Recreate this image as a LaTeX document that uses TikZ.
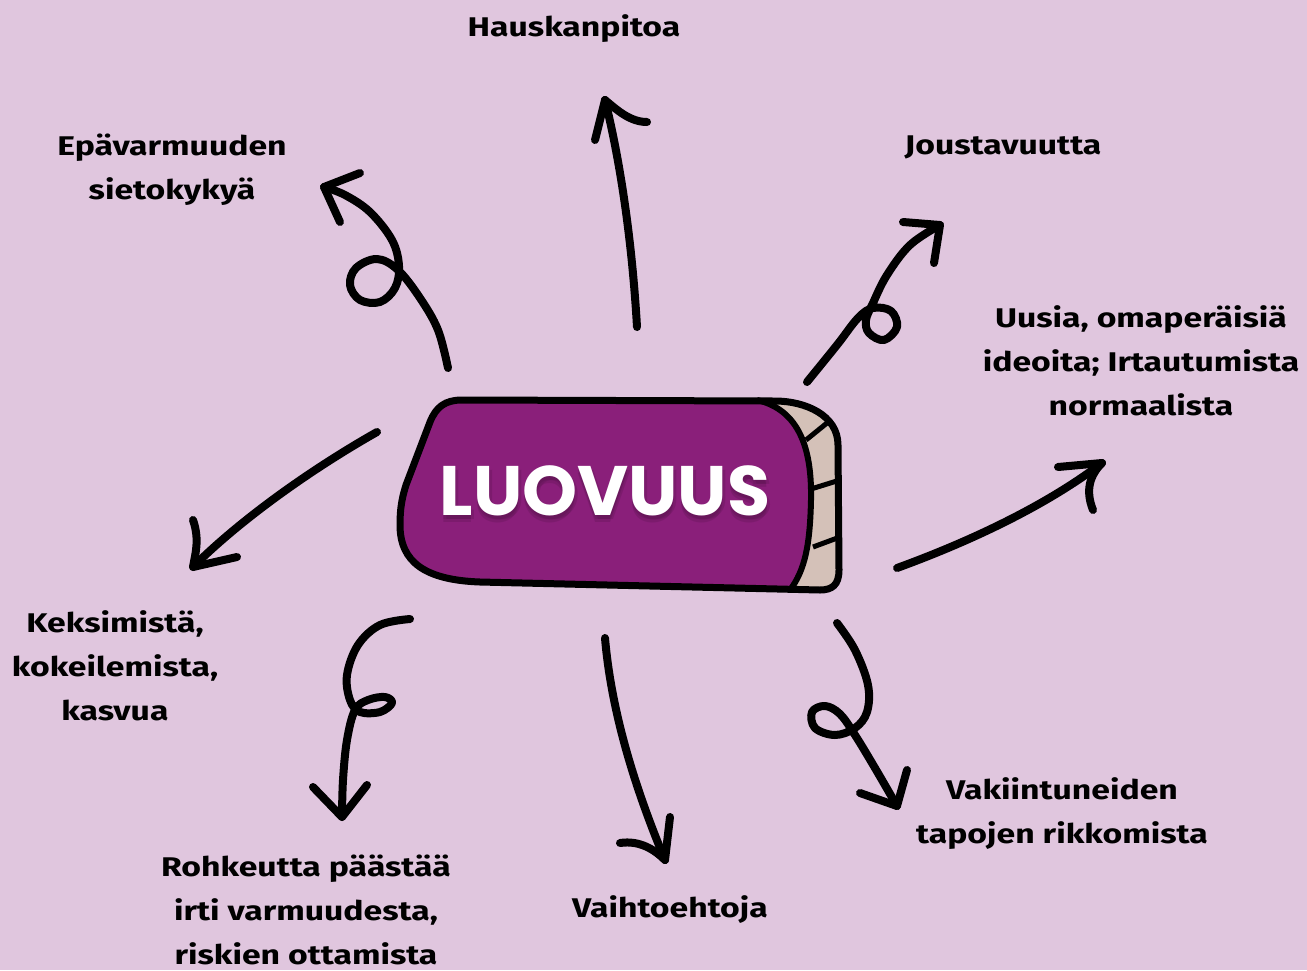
\documentclass[tikz,border=0pt]{standalone}
\usepackage{fontspec}
\setmainfont{Fira Sans}[FakeStretch=1.25]
\newfontfamily\luofont{Poppins}
\usepackage{tikz}
\usetikzlibrary{calc}
\definecolor{bgmauve}{HTML}{E0C6DE}
\definecolor{luopurple}{HTML}{8A1F7A}
\definecolor{luobeige}{HTML}{D4C1B8}
\newcommand\eraserpath{(462,400) -- (775,401) .. controls (805,401) and (838,415) .. (838,445)
  -- (839,570) .. controls (839,585) and (832,590) .. (820,590) -- (480,582)
  .. controls (425,580) and (400,562) .. (400,525) .. controls (400,505) and (403,495) .. (406,485)
  -- (430,422) .. controls (436,407) and (445,400) .. (462,400) -- cycle}
\tikzset{
	idea/.style={
			font=\fontsize{27}{44}\selectfont\bfseries,
			align=center,
			text=black,
			inner sep=0pt
		},
	bigword/.style={
			font=\luofont\fontsize{70}{74}\selectfont\bfseries,
			inner sep=0pt
		},
	squiggle/.style={
			line width=8pt,
			line cap=round,
			line join=round
		},
	barb/.style={
			squiggle
		}
}
\begin{document}
\begin{tikzpicture}[x=1pt, y=-1pt]
\fill[bgmauve] (0,0) rectangle (1307,970);
\useasboundingbox (0,0) rectangle (1307,970);

% the eraser in the middle
\begin{scope}
\clip \eraserpath;
\fill[luobeige] (390,390) rectangle (850,600);
\fill[luopurple] (740,380) -- (757,400) .. controls (800,410) and (812,450) .. (811,500)
  .. controls (810,545) and (805,570) .. (790,590) -- (780,610) -- (380,610) -- (380,380) -- cycle;
\end{scope}
\draw[line width=6pt] (757,400) .. controls (800,410) and (812,450) .. (811,500)
  .. controls (810,545) and (805,570) .. (790,590);
\draw[line width=5pt] (806,440) -- (827,423) (811,489) -- (840,480) (813,547) -- (840,537);
\draw[line width=7pt, line join=round] \eraserpath;

\foreach \dx/\dy in {0/4, 0/7, 3/4}
  \node[bigword, text=luopurple!55!black, opacity=0.22] at (605+\dx,491+\dy) {LUOVUUS};
\node[bigword, text=white] (luo) at (605,491) {LUOVUUS};

\node[idea] (hausk) at (574,29) {Hauskanpitoa};
\node[idea] (epav) at (172,170) {Epävarmuuden\\sietokykyä};
\node[idea] (joust) at (1003,147) {Joustavuutta};
\node[idea] (uusia) at (1141,361) {Uusia, omaperäisiä\\ideoita; Irtautumista\\normaalista};
\node[idea] (keks) at (115,666) {Keksimistä,\\kokeilemista,\\kasvua};
\node[idea] (rohk) at (306,910) {Rohkeutta päästää\\irti varmuudesta,\\riskien ottamista};
\node[idea] (vaiht) at (670,910) {Vaihtoehtoja};
\node[idea] (vaki) at (1062,814) {Vakiintuneiden\\tapojen rikkomista};

\coordinate (a0) at (637,327);  \coordinate (a1) at (605,100);
\coordinate (b0) at (448,368);  \coordinate (b1) at (324,187);
\coordinate (c0) at (807,382);  \coordinate (c1) at (940,225);
\coordinate (d0) at (897,568);  \coordinate (d1) at (1102,463);
\coordinate (e0) at (837,623);  \coordinate (e1) at (897,806);
\coordinate (f0) at (605,638);  \coordinate (f1) at (665,860);
\coordinate (g0) at (410,619);  \coordinate (g1) at (342,817);
\coordinate (h0) at (377,432);  \coordinate (h1) at (193,567);

\draw[squiggle] (a0) .. controls (632,240) and (620,160) .. (a1);
\draw[barb] (a1) -- +(-10,40);
\draw[barb] (a1) .. controls (617,110) and (630,122) .. (647,122);

\draw[squiggle] plot[smooth, tension=0.6] coordinates {(b0) (438,330) (420,298) (398,270) (377,259)
  (356,268) (350,285) (360,300) (380,302) (395,288) (399,266) (392,240) (370,212) (345,195) (b1)};
\draw[barb] (360,173) -- (b1) -- (340,222);

\draw[squiggle] plot[smooth, tension=0.6] coordinates {(c0) (837,345) (858,318) (873,308) (891,311)
  (897,327) (884,340) (869,333) (866,320) (873,303) (887,275) (910,245) (c1)};
\draw[barb] (903,222) -- (c1) -- (934,263);

\draw[squiggle] (d0) .. controls (960,545) and (1040,510) .. (d1);
\draw[barb] (1058,467) -- (d1) .. controls (1090,475) and (1085,490) .. (1093,510);

\draw[squiggle] plot[smooth, tension=0.6] coordinates {(e0) (855,650) (868,685) (867,712) (855,728)
  (835,735) (815,728) (812,712) (825,706) (840,714) (855,735) (875,768) (e1)};
\draw[barb] (860,793) -- (e1) -- (907,770);

\draw[squiggle] (f0) .. controls (612,720) and (640,800) .. (f1);
\draw[barb] (620,843) .. controls (640,840) and (655,850) .. (f1) -- (670,817);

\draw[squiggle] plot[smooth, tension=0.6] coordinates {(g0) (380,625) (358,645) (347,675) (350,700)
  (360,712) (380,712) (392,703) (385,697) (368,700) (355,710) (347,740) (343,780) (g1)};
\draw[barb] (313,787) -- (g1) -- (367,785);

\draw[squiggle] (h0) .. controls (310,470) and (240,520) .. (h1);
\draw[barb] (193,520) .. controls (200,540) and (195,555) .. (h1) -- (237,557);
\end{tikzpicture}
\end{document}
